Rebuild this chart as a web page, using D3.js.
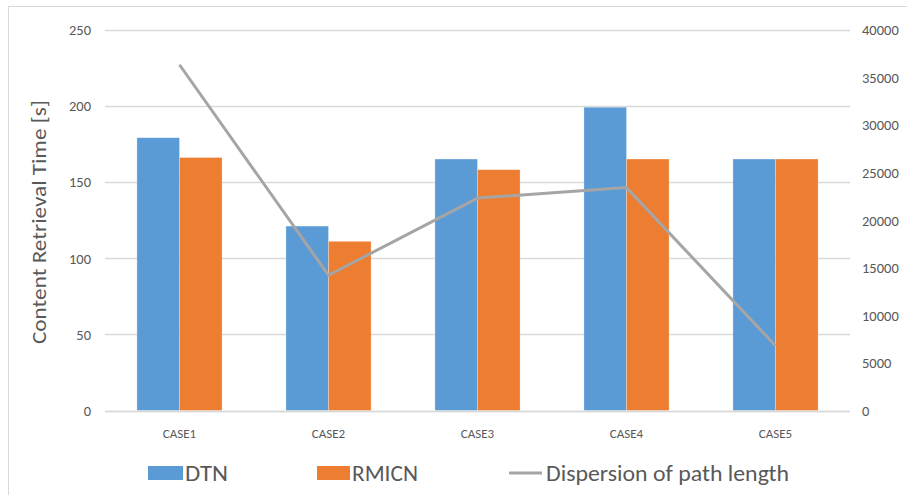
<!DOCTYPE html>
<html>
<head>
<meta charset="utf-8">
<script src="https://cdn.jsdelivr.net/npm/d3@7"></script>
<style>
  html, body { margin: 0; padding: 0; background: #fff; }
  svg text { font-family: Carlito, Calibri, Lato, "Open Sans", sans-serif; fill: #595959; }
</style>
</head>
<body>
<svg id="chart" width="907" height="495"></svg>
<script>
// Content retrieval time per case, with dispersion of path length on a secondary axis
const categories = ["CASE1", "CASE2", "CASE3", "CASE4", "CASE5"];
const dtnValues = [179, 121, 165, 199, 165];
const rmicnValues = [166, 111, 158, 165, 165];
const dispersionValues = [36300, 14200, 22300, 23400, 6800];
const leftTicks = [0, 50, 100, 150, 200, 250];
const rightTicks = [0, 5000, 10000, 15000, 20000, 25000, 30000, 35000, 40000];
const seriesNames = ["DTN", "RMICN", "Dispersion of path length"];

const colors = { dtn: "#5B9BD5", rmicn: "#ED7D31", line: "#A5A5A5", grid: "#D9D9D9" };
const fontStack = "Carlito, Calibri, Lato, sans-serif";

const svg = d3.select("#chart");
const plot = { left: 105, right: 850, top: 29.5, bottom: 410.5 };

// frame around the chart area
svg.append("rect")
  .attr("x", 8.5).attr("y", 6.5)
  .attr("width", 920).attr("height", 520)
  .attr("fill", "none").attr("stroke", colors.grid).attr("stroke-width", 1);

const x = d3.scaleBand().domain(categories).range([plot.left, plot.right]);
const yLeft = d3.scaleLinear().domain([0, 250]).range([plot.bottom, plot.top]);
const yRight = d3.scaleLinear().domain([0, 40000]).range([plot.bottom, plot.top]);

// gridlines
svg.append("g").selectAll("line").data(leftTicks).join("line")
  .attr("x1", plot.left).attr("x2", plot.right)
  .attr("y1", d => Math.round(yLeft(d)) + 0.5).attr("y2", d => Math.round(yLeft(d)) + 0.5)
  .attr("stroke", colors.grid).attr("stroke-width", 1.3);

// bars: 150% gap width, two series per category
const barW = x.bandwidth() / 3.5;
const gap = x.bandwidth() * 0.75 / 3.5;
const groups = [
  { values: dtnValues, color: colors.dtn, offset: 0 },
  { values: rmicnValues, color: colors.rmicn, offset: 1 }
];
groups.forEach(g => {
  svg.append("g").selectAll("rect").data(categories).join("rect")
    .attr("x", (c) => x(c) + gap + g.offset * barW)
    .attr("y", (c, i) => yLeft(g.values[i]))
    .attr("width", barW)
    .attr("height", (c, i) => yLeft(0) - yLeft(g.values[i]))
    .attr("fill", g.color)
    .attr("stroke", "#ffffff").attr("stroke-opacity", 0.35).attr("stroke-width", 0.75);
});

// baseline
svg.append("line")
  .attr("x1", plot.left).attr("x2", plot.right)
  .attr("y1", Math.round(yLeft(0)) + 0.5).attr("y2", Math.round(yLeft(0)) + 0.5)
  .attr("stroke", colors.grid).attr("stroke-width", 1.3);

// dispersion line on the secondary axis
const line = d3.line()
  .x((d, i) => x(categories[i]) + x.bandwidth() / 2)
  .y(d => yRight(d));
svg.append("path")
  .datum(dispersionValues)
  .attr("d", line)
  .attr("fill", "none")
  .attr("stroke", colors.line)
  .attr("stroke-width", 3)
  .attr("stroke-linejoin", "round");

// left axis
const leftAxis = d3.axisLeft(yLeft).tickValues(leftTicks).tickSize(0).tickPadding(14);
const gl = svg.append("g").attr("transform", `translate(${plot.left},0)`).call(leftAxis);
gl.select(".domain").remove();
gl.selectAll("text").attr("font-size", 14.5).attr("dy", "0.35em")
  .style("font-family", fontStack).style("fill", "#595959");

// right axis
const rightAxis = d3.axisRight(yRight).tickValues(rightTicks).tickFormat(d3.format("d")).tickSize(0).tickPadding(12);
const gr = svg.append("g").attr("transform", `translate(${plot.right},0)`).call(rightAxis);
gr.select(".domain").remove();
gr.selectAll("text").attr("font-size", 14.5).attr("dy", "0.35em")
  .style("font-family", fontStack).style("fill", "#595959");

// category axis
const bottomAxis = d3.axisBottom(x).tickSize(0).tickPadding(18);
const gb = svg.append("g").attr("transform", `translate(0,${plot.bottom})`).call(bottomAxis);
gb.select(".domain").remove();
gb.selectAll("text").attr("font-size", 13)
  .style("font-family", fontStack).style("fill", "#595959");

// y axis title
svg.append("text")
  .attr("transform", `translate(46,${(plot.top + plot.bottom) / 2 + 2}) rotate(-90)`)
  .attr("text-anchor", "middle")
  .attr("font-size", 20)
  .attr("textLength", 244)
  .attr("lengthAdjust", "spacingAndGlyphs")
  .text("Content Retrieval Time [s]");

// legend
const legendY = 473;
const legend = svg.append("g");
legend.append("rect").attr("x", 148).attr("y", legendY - 7).attr("width", 35).attr("height", 14).attr("fill", colors.dtn);
legend.append("text").attr("x", 185).attr("y", legendY + 8).attr("font-size", 22).attr("textLength", 43).attr("lengthAdjust", "spacingAndGlyphs").text(seriesNames[0]);
legend.append("rect").attr("x", 317).attr("y", legendY - 7).attr("width", 33).attr("height", 14).attr("fill", colors.rmicn);
legend.append("text").attr("x", 352).attr("y", legendY + 8).attr("font-size", 22).attr("textLength", 66).attr("lengthAdjust", "spacingAndGlyphs").text(seriesNames[1]);
legend.append("line").attr("x1", 509).attr("x2", 542).attr("y1", legendY).attr("y2", legendY)
  .attr("stroke", colors.line).attr("stroke-width", 3);
legend.append("text").attr("x", 546).attr("y", legendY + 8).attr("font-size", 22).attr("textLength", 243).attr("lengthAdjust", "spacingAndGlyphs").text(seriesNames[2]);
</script>
</body>
</html>
